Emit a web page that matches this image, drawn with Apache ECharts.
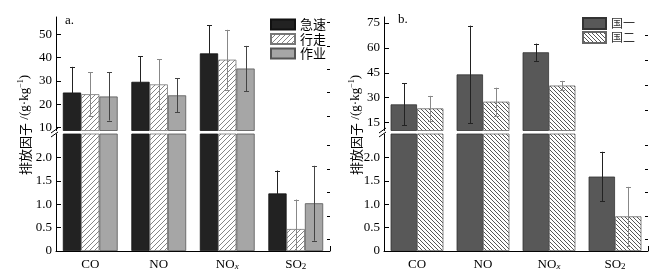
<!DOCTYPE html>
<html><head><meta charset="utf-8">
<script src="https://cdn.jsdelivr.net/npm/echarts@6/dist/echarts.min.js"></script>
<style>html,body{margin:0;padding:0;background:#fff}#c{width:670px;height:279px}</style>
</head><body><div id="c"></div>
<script>
// ---- data ----
const categories = ['CO', 'NO', 'NOx', 'SO2'];
const jisu = [25.0, 29.6, 41.8, 1.23];
const jisuErr = [11.0, 11.0, 12.1, 0.49];
const xingzou = [24.3, 28.5, 39.1, 0.47];
const xingzouErr = [9.3, 10.7, 12.8, 0.63];
const zuoye = [23.3, 23.8, 35.3, 1.02];
const zuoyeErr = [10.3, 7.3, 9.7, 0.80];
const guo1 = [26.0, 44.0, 57.3, 1.59];
const guo1Err = [12.6, 29.3, 5.2, 0.53];
const guo2 = [23.6, 27.6, 37.3, 0.74];
const guo2Err = [7.5, 8.4, 2.8, 0.63];
const leftUpperTicks = [10, 20, 30, 40, 50];
const leftUpperMinor = [15, 25, 35, 45, 55];
const rightUpperTicks = [15, 30, 45, 60, 75];
const rightUpperMinor = [22.5, 37.5, 52.5, 67.5];
const lowerTicks = [0, 0.5, 1.0, 1.5, 2.0];
const lowerMinor = [0.25, 0.75, 1.25, 1.75, 2.25];

const SERIF = 'Liberation Serif';
const CJK = 'Noto Sans CJK SC';

function hatch(size, color, dir, lw) {
  const c = document.createElement('canvas');
  c.width = size; c.height = size;
  const g = c.getContext('2d');
  g.fillStyle = '#fff'; g.fillRect(0, 0, size, size);
  g.strokeStyle = color; g.lineWidth = lw;
  g.beginPath();
  for (const k of [-size, 0, size]) {
    if (dir === '/') { g.moveTo(k, size); g.lineTo(k + size, 0); }
    else { g.moveTo(k, 0); g.lineTo(k + size, size); }
  }
  g.stroke();
  return c;
}
const hatchL = { image: hatch(5, '#777', '/', 0.9), repeat: 'repeat' };
const hatchR = { image: hatch(4, '#444', '\\', 0.9), repeat: 'repeat' };

const grids = [
  { left: 56, right: 340, top: 17, height: 113.5 },
  { left: 56, right: 340, top: 134, height: 117 },
  { left: 384, right: 22, top: 17, height: 113.5 },
  { left: 384, right: 22, top: 134, height: 117 }
];

function labelFmt(v) {
  if (v === 'NOx') return 'NO{sub|x}';
  if (v === 'SO2') return 'SO{sub2|2}';
  return v;
}
function xAxisFor(gi, show) {
  return {
    type: 'category', gridIndex: gi, data: categories, show: show,
    axisLine: { show: true, onZero: false, lineStyle: { color: '#000', width: 1 } },
    axisTick: { show: false },
    axisLabel: {
      interval: 0, hideOverlap: false,
      margin: 7, color: '#000', fontFamily: SERIF, fontSize: 13, formatter: labelFmt,
      rich: {
        sub: { fontFamily: SERIF, fontStyle: 'italic', fontSize: 9, verticalAlign: 'bottom', lineHeight: 9, color: '#000' },
        sub2: { fontFamily: SERIF, fontSize: 9, verticalAlign: 'bottom', lineHeight: 9, color: '#000' }
      }
    },
    splitLine: { show: false }
  };
}
function yMajor(gi, min, max, ticks, fmt) {
  return {
    type: 'value', gridIndex: gi, min: min, max: max,
    axisLine: { show: true, lineStyle: { color: '#000', width: 1 } },
    axisTick: { show: true, inside: true, length: 5, customValues: ticks, lineStyle: { color: '#000' } },
    axisLabel: { customValues: ticks, formatter: fmt, fontFamily: SERIF, fontSize: 13, color: '#000', margin: 4 },
    splitLine: { show: false }
  };
}
function yMinor(gi, min, max, minor) {
  return {
    type: 'value', gridIndex: gi, min: min, max: max,
    axisLine: { show: false },
    axisTick: { show: true, inside: true, length: 3, customValues: minor, lineStyle: { color: '#000' } },
    axisLabel: { show: false },
    splitLine: { show: false }
  };
}
const intFmt = v => String(Math.round(v));
const decFmt = v => (v === 0 ? '0' : v.toFixed(1));

function barSeries(name, data, gi, yi, color, border) {
  return {
    type: 'bar', name: name, data: data, xAxisIndex: gi, yAxisIndex: yi,
    barGap: '0%', barCategoryGap: '20%', clip: true,
    itemStyle: { color: color, borderColor: border, borderWidth: 0.8 },
    emphasis: { disabled: true }, z: 2
  };
}
function errSeries(vals, errs, gi, yi, i, n, color) {
  return {
    type: 'custom', xAxisIndex: gi, yAxisIndex: yi, z: 5, silent: true,
    data: vals.map((v, k) => [k, v, errs[k]]),
    encode: { x: 0, y: 1 },
    renderItem: function (params, api) {
      const idx = api.value(0), v = api.value(1), e = api.value(2);
      const cs = params.coordSys;
      const top = cs.y, bot = cs.y + cs.height;
      const c = api.coord([idx, v]);
      const y1 = api.coord([idx, v + e])[1];
      const y2 = api.coord([idx, v - e])[1];
      if (y2 < top || y1 > bot) return null;
      const band = api.size([1, 0])[0];
      const bw = band * 0.8 / n;
      const x = Math.round(c[0] + (i - (n - 1) / 2) * bw) + 0.5;
      const ya = Math.max(y1, top), yb = Math.min(y2, bot);
      const st = { stroke: color, lineWidth: 1 };
      const ch = [{ type: 'line', shape: { x1: x, y1: ya, x2: x, y2: yb }, style: st }];
      if (y1 >= top) ch.push({ type: 'line', shape: { x1: x - 2.5, y1: Math.round(y1) + 0.5, x2: x + 2.5, y2: Math.round(y1) + 0.5 }, style: st });
      if (y2 <= bot) ch.push({ type: 'line', shape: { x1: x - 2.5, y1: Math.round(y2) + 0.5, x2: x + 2.5, y2: Math.round(y2) + 0.5 }, style: st });
      return { type: 'group', children: ch };
    }
  };
}

const series = [];
// left chart: grids 0 (upper) and 1 (lower); y axes 0/1 and 2/3
[[0, 0], [1, 2]].forEach(([gi, yi]) => {
  series.push(barSeries('急速', jisu, gi, yi, '#222', '#111'));
  series.push(barSeries('行走', xingzou, gi, yi, hatchL, '#777'));
  series.push(barSeries('作业', zuoye, gi, yi, '#a6a6a6', '#555'));
  series.push(errSeries(jisu, jisuErr, gi, yi, 0, 3, '#222'));
  series.push(errSeries(xingzou, xingzouErr, gi, yi, 1, 3, '#888'));
  series.push(errSeries(zuoye, zuoyeErr, gi, yi, 2, 3, '#444'));
});
// right chart: grids 2 and 3; y axes 4/5 and 6/7
[[2, 4], [3, 6]].forEach(([gi, yi]) => {
  series.push(barSeries('国一', guo1, gi, yi, '#585858', '#333'));
  series.push(barSeries('国二', guo2, gi, yi, hatchR, '#666'));
  series.push(errSeries(guo1, guo1Err, gi, yi, 0, 2, '#222'));
  series.push(errSeries(guo2, guo2Err, gi, yi, 1, 2, '#888'));
});

const titleRich = {
  t: { fontFamily: CJK, fontSize: 13, color: '#000', lineHeight: 16 },
  s: { fontFamily: SERIF, fontSize: 13, color: '#000', lineHeight: 16 },
  sup: { fontFamily: SERIF, fontSize: 8, color: '#000', lineHeight: 9, verticalAlign: 'top' }
};
const titleText = '{t|排放因子} {s|/(g·kg}{sup|−1}{s|)}';
function lineG(x1, y1, x2, y2) {
  return { type: 'line', shape: { x1, y1, x2, y2 }, style: { stroke: '#000', lineWidth: 1 }, silent: true };
}

const option = {
  animation: false,
  backgroundColor: '#fff',
  grid: grids,
  xAxis: [xAxisFor(0, false), xAxisFor(1, true), xAxisFor(2, false), xAxisFor(3, true)],
  yAxis: [
    yMajor(0, 8.72, 57.4, leftUpperTicks, intFmt), yMinor(0, 8.72, 57.4, leftUpperMinor),
    yMajor(1, 0, 2.5, lowerTicks, decFmt), yMinor(1, 0, 2.5, lowerMinor),
    yMajor(2, 10.3, 78.5, rightUpperTicks, intFmt), yMinor(2, 10.3, 78.5, rightUpperMinor),
    yMajor(3, 0, 2.5, lowerTicks, decFmt), yMinor(3, 0, 2.5, lowerMinor)
  ],
  legend: [
    { orient: 'vertical', left: 270, top: 18, padding: 0, itemWidth: 24, itemHeight: 10, itemGap: 1.5,
      icon: 'rect', data: ['急速', '行走', '作业'], selectedMode: false,
      textStyle: { fontFamily: CJK, fontSize: 13, lineHeight: 13, color: '#000' } },
    { orient: 'vertical', left: 582, top: 17, padding: 0, itemWidth: 23, itemHeight: 11, itemGap: 1,
      icon: 'rect', data: ['国一', '国二'], selectedMode: false,
      textStyle: { fontFamily: CJK, fontSize: 12, lineHeight: 13, color: '#333' } }
  ],
  graphic: [
    { type: 'text', x: 25, y: 125, rotation: Math.PI / 2, silent: true,
      style: { text: titleText, rich: titleRich, align: 'center', verticalAlign: 'middle' } },
    { type: 'text', x: 356, y: 125, rotation: Math.PI / 2, silent: true,
      style: { text: titleText, rich: titleRich, align: 'center', verticalAlign: 'middle' } },
    { type: 'text', x: 65, y: 21, silent: true,
      style: { text: 'a.', fontFamily: SERIF, fontSize: 13, fill: '#000', verticalAlign: 'middle' } },
    { type: 'text', x: 398, y: 20, silent: true,
      style: { text: 'b.', fontFamily: SERIF, fontSize: 13, fill: '#000', verticalAlign: 'middle' } },
    lineG(51, 133, 58, 128), lineG(51, 137, 58, 132),
    lineG(379, 133, 386, 128), lineG(379, 137, 386, 132),
    lineG(330.5, 246, 330.5, 251), lineG(648.5, 246, 648.5, 251)
  ],
  series: series
};
const chart = echarts.init(document.getElementById('c'), null, { renderer: 'canvas' });
chart.setOption(option);
</script>
</body></html>
